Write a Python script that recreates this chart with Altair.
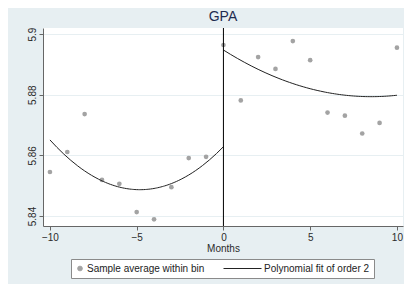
import altair as alt
import pandas as pd

# ---- data ----
months = [-10, -9, -8, -7, -6, -5, -4, -3, -2, -1, 0, 1, 2, 3, 4, 5, 6, 7, 8, 9, 10]
gpa = [5.8545, 5.8611, 5.8736, 5.8519, 5.8506, 5.8413, 5.8389, 5.8495, 5.8591, 5.8595,
       5.8964, 5.8781, 5.8924, 5.8885, 5.8977, 5.8914, 5.8741, 5.8731, 5.8672, 5.8707, 5.8955]
cutoff = 0
x_ticks = [-10, -5, 0, 5, 10]
y_ticks = [5.84, 5.86, 5.88, 5.9]
series_names = ["Sample average within bin", "Polynomial fit of order 2"]

FONT = "Liberation Sans"
df = pd.DataFrame({"month": months, "gpa": gpa})
df["series"] = series_names[0]

xs = alt.Scale(domain=[-10.4, 10.35], nice=False, zero=False)
ys = alt.Scale(domain=[5.8367, 5.902], nice=False, zero=False)

x_axis = alt.Axis(values=x_ticks, title="Months", grid=False, tickSize=4,
                  labelPadding=2, titlePadding=1, format="d")
y_axis = alt.Axis(values=y_ticks, title=None, grid=True, tickSize=4, labelAngle=270,
                  labelAlign="center", labelBaseline="bottom", labelPadding=2,
                  format=".2~f")

legend = alt.Legend(
    title=None, orient="none", legendX=28, legendY=231, direction="horizontal",
    padding=4, strokeColor="#8a8a8a", fillColor="white", labelFont=FONT,
    labelFontSize=10, labelColor="#222222", labelOffset=2, columnPadding=18,
    symbolStrokeWidth=1, symbolOpacity=1, clipHeight=11,
)

color_scale = alt.Scale(domain=series_names, range=["#a3a3a3", "#222222"])
shape_scale = alt.Scale(domain=series_names, range=["circle", "stroke"])
size_scale = alt.Scale(domain=series_names, range=[22, 1444])

base = alt.Chart(df)

points = base.mark_point(filled=True, opacity=1).encode(
    x=alt.X("month:Q", scale=xs, axis=x_axis),
    y=alt.Y("gpa:Q", scale=ys, axis=y_axis),
    color=alt.Color("series:N", scale=color_scale, legend=legend),
    shape=alt.Shape("series:N", scale=shape_scale, legend=legend),
    size=alt.Size("series:N", scale=size_scale, legend=legend),
)

def fit(side_filter, extent):
    return base.transform_filter(side_filter).transform_regression(
        "month", "gpa", method="poly", order=2, extent=extent
    ).transform_calculate(series=f"'{series_names[1]}'").mark_line(strokeWidth=1).encode(
        x=alt.X("month:Q", scale=xs),
        y=alt.Y("gpa:Q", scale=ys),
        color=alt.Color("series:N", scale=color_scale, legend=legend),
    )

left_fit = fit(alt.datum.month < cutoff, [-10, cutoff])
right_fit = fit(alt.datum.month >= cutoff, [cutoff, 10])

vline = alt.Chart(pd.DataFrame({"c": [cutoff]})).mark_rule(color="#000000", strokeWidth=1).encode(
    x=alt.X("c:Q", scale=xs)
)

chart = alt.layer(points, left_fit, right_fit, vline).properties(
    width=360, height=198,
    title=alt.TitleParams("GPA", font=FONT, fontSize=14, fontWeight="normal",
                          color="#1e2b50", anchor="middle", offset=3),
    autosize=alt.AutoSizeParams(type="none"),
    padding={"left": 35, "top": 20, "right": 1, "bottom": 58},
    background="#e7eff2",
).configure_view(
    fill="white", stroke=None
).configure_axis(
    labelFont=FONT, titleFont=FONT, labelFontSize=10, titleFontSize=10,
    labelColor="#2a2a2a", titleColor="#2a2a2a", titleFontWeight="normal",
    domainColor="#666666", tickColor="#666666", gridColor="#e7eff2", gridWidth=1,
)

chart.save("out.html", embed_options={"renderer": "svg", "actions": False})
